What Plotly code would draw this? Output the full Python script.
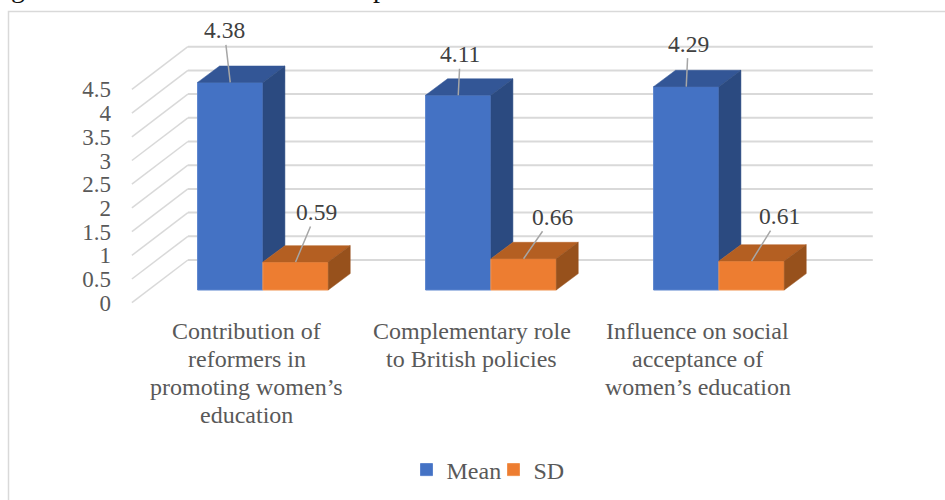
# Grafico de barras com aparencia 3D (Mean x SD)
import plotly.graph_objects as go

categories = [
    "Contribution of<br>reformers in<br>promoting women’s<br>education",
    "Complementary role<br>to British policies",
    "Influence on social<br>acceptance of<br>women’s education",
]
mean_values = [4.38, 4.11, 4.29]
sd_values = [0.59, 0.66, 0.61]
y_ticks = [0, 0.5, 1, 1.5, 2, 2.5, 3, 3.5, 4, 4.5]
y_tick_labels = ["0", "0.5", "1", "1.5", "2", "2.5", "3", "3.5", "4", "4.5"]

# geometria da figura
W, H = 945, 500
M_L, M_R, M_T, M_B = 115, 65, 12, 5
X_RANGE = [-0.6487, 2.7065]
Y_RANGE = [-4.325, 5.865]
BAR_W = 0.2865
DX, DY = 0.0965, 0.346          # profundidade das barras
WALL_DY = 0.633                 # parede do fundo
FRONT_DY = -0.268               # borda da frente do piso
WALL_X0, WALL_X1, FRONT_X = -0.329, 2.675, -0.5746
LABEL_SHIFT = [-0.07, -0.083, -0.092]
LABEL_Y0, LABEL_PITCH = -0.875, 0.5865

FONT = "Liberation Serif"
GRID = "#D9D9D9"
TEXT = "#595959"

fig = go.Figure()
fig.add_trace(go.Bar(x=[0, 1, 2], y=mean_values, name="Mean", marker=dict(color="#4472C4", line=dict(color="#5B84CE", width=1))))
fig.add_trace(go.Bar(x=[0, 1, 2], y=sd_values, name="SD", marker=dict(color="#ED7D31", line=dict(color="#F0924F", width=1))))


def face(xs, ys, color):
    fig.add_trace(go.Scatter(x=xs, y=ys, mode="lines", fill="toself", fillcolor=color,
                             line=dict(color=color, width=0.5), showlegend=False, hoverinfo="skip"))


for i in range(3):
    m, s = mean_values[i], sd_values[i]
    a, b, c = i - BAR_W, i, i + BAR_W
    # topo e lateral da barra Mean
    face([a, b, b + DX, a + DX, a], [m, m, m + DY, m + DY, m], "#335696")
    face([b, b + DX, b + DX, b, b], [m, m + DY, s + DY, s, m], "#2B4A80")
    # topo e lateral da barra SD
    face([b, c, c + DX, b + DX, b], [s, s, s + DY, s + DY, s], "#B45F22")
    face([c, c + DX, c + DX, c, c], [s, s + DY, DY, 0, s], "#97511C")

shapes = []
for t in y_ticks:
    shapes.append(dict(type="line", layer="below", xref="x", yref="y", x0=WALL_X0, x1=WALL_X1,
                       y0=t + WALL_DY, y1=t + WALL_DY, line=dict(color=GRID, width=2)))
    shapes.append(dict(type="line", layer="below", xref="x", yref="y", x0=FRONT_X, x1=WALL_X0,
                       y0=t + FRONT_DY, y1=t + WALL_DY, line=dict(color=GRID, width=1.5)))

# borda do grafico
pw, ph = W - M_L - M_R, H - M_T - M_B
shapes.append(dict(type="rect", layer="below", xref="paper", yref="paper",
                   x0=(8.5 - M_L) / pw, x1=(960 - M_L) / pw,
                   y0=(H - M_B - 510) / ph, y1=(H - M_B - 11.5) / ph,
                   line=dict(color=GRID, width=1.5)))

# rotulos de dados com linha guia
mean_offsets = [(-6, -52), (2, -41), (2, -43)]
sd_offsets = [(21, -50), (29, -42), (28, -45)]
annotations = []
for i in range(3):
    for val, off, xpos in ((mean_values[i], mean_offsets[i], i - BAR_W / 2),
                           (sd_values[i], sd_offsets[i], i + BAR_W / 2)):
        annotations.append(dict(x=xpos, y=val, xref="x", yref="y", text=f"{val:.2f}", showarrow=True,
                                ax=off[0], ay=off[1], axref="pixel", ayref="pixel", arrowhead=0,
                                arrowwidth=1.5, arrowcolor="#A6A6A6",
                                font=dict(family=FONT, size=23.5, color="#404040")))
    # nomes das categorias, uma linha por vez (entrelinha menor que a do plotly)
    for j, line in enumerate(categories[i].split("<br>")):
        annotations.append(dict(x=i + LABEL_SHIFT[i], y=LABEL_Y0 - j * LABEL_PITCH, xref="x", yref="y",
                                text=line, showarrow=False, xanchor="center", yanchor="middle",
                                font=dict(family=FONT, size=24, color=TEXT)))

# restos da legenda da pagina original, cortados na borda superior
for txt, px in (("g", 18), ("p", 380)):
    annotations.append(dict(x=(px - M_L) / pw, y=(H - M_B - 5) / ph, xref="paper", yref="paper", text=txt,
                            showarrow=False, xanchor="center", yanchor="bottom",
                            font=dict(family=FONT, size=28, color="#111111")))

fig.update_layout(
    width=W, height=H,
    margin=dict(l=M_L, r=M_R, t=M_T, b=M_B, pad=0),
    paper_bgcolor="white", plot_bgcolor="rgba(0,0,0,0)",
    barmode="group", bargap=1 - 2 * BAR_W, bargroupgap=0,
    font=dict(family=FONT, size=24, color=TEXT),
    shapes=shapes, annotations=annotations,
    legend=dict(orientation="h", x=(406.5 - M_L) / pw, xanchor="left", entrywidth=42,
                y=(H - M_B - 470) / ph, yanchor="middle", font=dict(family=FONT, size=24, color=TEXT),
                bgcolor="rgba(0,0,0,0)"),
    xaxis=dict(range=X_RANGE, showticklabels=False, showgrid=False, zeroline=False, showline=False, ticks=""),
    yaxis=dict(range=Y_RANGE, tickvals=[t + FRONT_DY for t in y_ticks], ticktext=y_tick_labels,
               tickfont=dict(size=23), showgrid=False, zeroline=False, showline=False, ticks="",
               ticklabelstandoff=3),
)

# a pagina tem margem de 8px no body por padrao
fig.write_html("out.html", config=dict(displayModeBar=False),
               post_script="document.body.style.margin='0';document.body.style.overflow='hidden';")
